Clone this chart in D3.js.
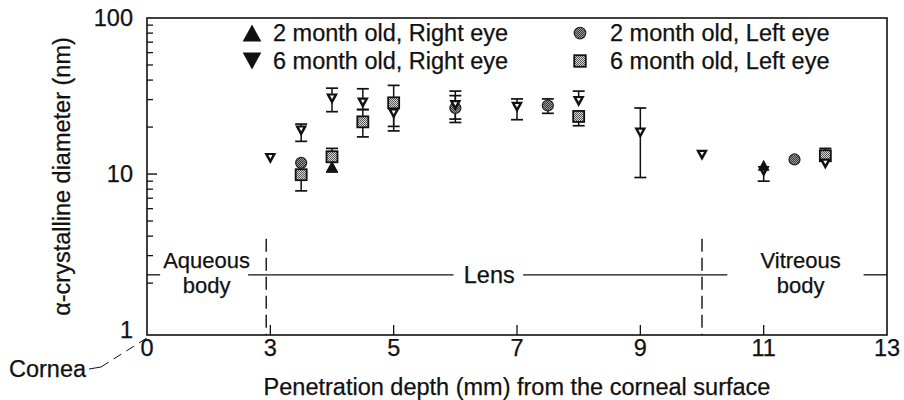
<!DOCTYPE html>
<html>
<head>
<meta charset="utf-8">
<script src="https://cdn.jsdelivr.net/npm/d3@7"></script>
<style>
  body { margin: 0; background: #fff; }
  svg text { font-family: "Liberation Sans", Arial, Helvetica, sans-serif; fill: #111; stroke: #111; stroke-width: 0.25px; }
</style>
</head>
<body>
<svg id="chart" width="904" height="400"></svg>
<script>
// ---- data (depth in mm, diameter in nm) ----
const xTickValues = [0, 3, 5, 7, 9, 11, 13];
const yTickValues = [1, 10, 100];

// 2 month old, right eye
const m2RightDepth = [4, 11];
const m2RightDiam = [11.2, 11.4];
const m2RightLo = [10.3, null];
const m2RightHi = [null, null];

// 6 month old, right eye
const m6RightDepth = [3, 3.5, 4, 4.5, 5, 6, 7, 8, 9, 10, 11, 12];
const m6RightDiam = [12.6, 18.9, 30.3, 28.5, 24.3, 27.5, 26.8, 29.2, 18.3, 13.2, 10.4, 11.6];
const m6RightLo = [null, 16.2, 25.1, 25.9, 20.2, 21.4, 22.3, null, 9.5, null, 9.0, null];
const m6RightHi = [null, 20.9, 35.5, 35.2, null, 34.0, 30.3, 34.0, 26.5, null, null, null];

// 2 month old, left eye
const m2LeftDepth = [3.5, 6, 7.5, 11.5];
const m2LeftDiam = [11.8, 26.5, 27.5, 12.4];
const m2LeftLo = [null, 22.5, 24.5, null];
const m2LeftHi = [null, 31.8, 30.3, null];

// 6 month old, left eye
const m6LeftDepth = [3.5, 4, 4.5, 5, 8, 12];
const m6LeftDiam = [9.9, 12.9, 21.6, 28.6, 23.4, 13.1];
const m6LeftLo = [7.8, null, 17.3, 18.9, 20.4, null];
const m6LeftHi = [null, 14.6, 25.9, 37.0, null, 14.6];

// region annotations (mm / nm)
const regionLineY = 2.26;
const regionLineSegments = [[0, 0.32], [2.46, 5.97], [7.1, 10.41], [12.62, 13]];
const regionBoundaries = [2.9, 10];
const regionLabels = [
  { lines: ["Aqueous", "body"], x: 1.45 },
  { lines: ["Lens"], x: 6.55 },
  { lines: ["Vitreous", "body"], x: 11.6 }
];

function buildSeries(name, symbol, xs, ys, lo, hi) {
  return { name, symbol, points: xs.map((d, i) => ({ x: d, y: ys[i], lo: lo[i], hi: hi[i] })) };
}

const series = [
  buildSeries("6 month old, Left eye", "square", m6LeftDepth, m6LeftDiam, m6LeftLo, m6LeftHi),
  buildSeries("2 month old, Left eye", "circle", m2LeftDepth, m2LeftDiam, m2LeftLo, m2LeftHi),
  buildSeries("6 month old, Right eye", "down", m6RightDepth, m6RightDiam, m6RightLo, m6RightHi),
  buildSeries("2 month old, Right eye", "up", m2RightDepth, m2RightDiam, m2RightLo, m2RightHi)
];

// ---- layout ----
const plotLeft = 147, plotRight = 887, plotTop = 18, plotBottom = 335;
const fontSize = 23.5;
const regionFont = 22;

const svg = d3.select("#chart");

// broken axis: 0..3 is squeezed into one label step
const x = d3.scaleLinear()
  .domain([0, 3, 13])
  .range([plotLeft, plotLeft + (plotRight - plotLeft) / 6, plotRight]);
const y = d3.scaleLog().domain([0.93, 100]).range([plotBottom, plotTop]);

// patterns for the textured markers
const defs = svg.append("defs");
const sq = defs.append("pattern").attr("id", "checkLight")
  .attr("width", 2).attr("height", 2).attr("patternUnits", "userSpaceOnUse");
sq.append("rect").attr("width", 2).attr("height", 2).attr("fill", "#d8d8d8");
sq.append("rect").attr("width", 1).attr("height", 1).attr("fill", "#555");
sq.append("rect").attr("x", 1).attr("y", 1).attr("width", 1).attr("height", 1).attr("fill", "#555");

const ci = defs.append("pattern").attr("id", "checkDark")
  .attr("width", 2).attr("height", 2).attr("patternUnits", "userSpaceOnUse");
ci.append("rect").attr("width", 2).attr("height", 2).attr("fill", "#3a3a3a");
ci.append("rect").attr("width", 1).attr("height", 1).attr("fill", "#999");
ci.append("rect").attr("x", 1).attr("y", 1).attr("width", 1).attr("height", 1).attr("fill", "#999");

// ---- frame ----
svg.append("rect")
  .attr("x", plotLeft).attr("y", plotTop)
  .attr("width", plotRight - plotLeft).attr("height", plotBottom - plotTop)
  .attr("fill", "none").attr("stroke", "#111").attr("stroke-width", 1.6);

// y ticks (inward), majors longer
const yMinor = [];
[1, 10].forEach(dec => d3.range(2, 10).forEach(k => yMinor.push(dec * k)));
svg.append("g").selectAll("line")
  .data(yMinor)
  .join("line")
  .attr("x1", plotLeft).attr("x2", plotLeft + 6)
  .attr("y1", d => y(d)).attr("y2", d => y(d))
  .attr("stroke", "#111").attr("stroke-width", 1.3);
svg.append("g").selectAll("line")
  .data([10])
  .join("line")
  .attr("x1", plotLeft).attr("x2", plotLeft + 10)
  .attr("y1", d => y(d)).attr("y2", d => y(d))
  .attr("stroke", "#111").attr("stroke-width", 1.4);

svg.append("g").selectAll("text")
  .data(yTickValues)
  .join("text")
  .attr("x", plotLeft - 14)
  .attr("y", d => y(d) + 8)
  .attr("text-anchor", "end")
  .style("font-size", fontSize + "px")
  .text(d => d);

// x ticks (inward from bottom)
svg.append("g").selectAll("line")
  .data(xTickValues.slice(1, -1))
  .join("line")
  .attr("x1", d => x(d)).attr("x2", d => x(d))
  .attr("y1", plotBottom).attr("y2", plotBottom - 10)
  .attr("stroke", "#111").attr("stroke-width", 1.3);

svg.append("g").selectAll("text")
  .data(xTickValues)
  .join("text")
  .attr("x", d => x(d))
  .attr("y", plotBottom + 21)
  .attr("text-anchor", "middle")
  .style("font-size", fontSize + "px")
  .text(d => d);

// axis titles
svg.append("text")
  .attr("transform", `translate(70, ${(plotTop + plotBottom) / 2}) rotate(-90)`)
  .attr("text-anchor", "middle")
  .style("font-size", fontSize + "px")
  .text("\u03b1-crystalline diameter (nm)");

svg.append("text")
  .attr("x", (x(3) + x(11)) / 2)
  .attr("y", 395)
  .attr("text-anchor", "middle")
  .style("font-size", fontSize + "px")
  .text("Penetration depth (mm) from the corneal surface");

// cornea pointer
const cornea = svg.append("text")
  .attr("x", 9).attr("y", 377)
  .style("font-size", fontSize + "px")
  .text("Cornea");
const cb = cornea.node().getBBox();
svg.append("path")
  .attr("d", `M${cb.x + cb.width + 2},369 L${cb.x + cb.width + 14},367`)
  .attr("fill", "none").attr("stroke", "#111").attr("stroke-width", 1);
svg.append("line")
  .attr("x1", cb.x + cb.width + 14).attr("y1", 367)
  .attr("x2", x(0) + 3).attr("y2", plotBottom + 1)
  .attr("stroke", "#111").attr("stroke-width", 1)
  .attr("stroke-dasharray", "9,6");

// ---- region annotations ----
svg.append("g").selectAll("line")
  .data(regionLineSegments)
  .join("line")
  .attr("x1", d => x(d[0])).attr("x2", d => x(d[1]))
  .attr("y1", y(regionLineY)).attr("y2", y(regionLineY))
  .attr("stroke", "#111").attr("stroke-width", 1.3);

svg.append("g").selectAll("line")
  .data(regionBoundaries)
  .join("line")
  .attr("x1", d => x(d)).attr("x2", d => x(d))
  .attr("y1", y(regionLineY) - 36).attr("y2", plotBottom)
  .attr("stroke", "#111").attr("stroke-width", 1.4)
  .attr("stroke-dasharray", "13,6");

regionLabels.forEach(r => {
  if (r.lines.length === 1) {
    svg.append("text")
      .attr("text-anchor", "middle")
      .style("font-size", fontSize + "px")
      .attr("x", x(r.x)).attr("y", y(regionLineY) + 8)
      .text(r.lines[0]);
  } else {
    r.lines.forEach((ln, i) => {
      svg.append("text")
        .attr("text-anchor", "middle")
        .style("font-size", regionFont + "px")
        .attr("x", x(r.x))
        .attr("y", y(regionLineY) - 7 + i * 25)
        .text(ln);
    });
  }
});

// ---- markers ----
function triPath(cx, cy, w, h, down) {
  const s = down ? 1 : -1;
  return `M${cx - w / 2},${cy - s * h / 2} L${cx + w / 2},${cy - s * h / 2} L${cx},${cy + s * h / 2} Z`;
}

function drawMarker(g, symbol, cx, cy, big) {
  const k = big ? 1.55 : 1;
  if (symbol === "up") {
    g.append("path").attr("d", triPath(cx, cy, 12 * k, 11 * k, false)).attr("fill", "#111");
  } else if (symbol === "down") {
    if (big) {
      g.append("path").attr("d", triPath(cx, cy, 12 * k, 11 * k, true)).attr("fill", "#111");
    } else {
      g.append("path").attr("d", triPath(cx, cy, 12, 11, true)).attr("fill", "#111");
      g.append("path").attr("d", triPath(cx, cy - 1.5, 4, 3.6, true)).attr("fill", "#fff");
    }
  } else if (symbol === "circle") {
    g.append("circle").attr("cx", cx).attr("cy", cy).attr("r", 5.5 * (big ? 1.05 : 1))
      .attr("fill", "url(#checkDark)").attr("stroke", "#222").attr("stroke-width", 1.2);
  } else if (symbol === "square") {
    const s = 11 * (big ? 1.05 : 1);
    g.append("rect").attr("x", cx - s / 2).attr("y", cy - s / 2).attr("width", s).attr("height", s)
      .attr("fill", "url(#checkLight)").attr("stroke", "#111").attr("stroke-width", 1.8);
  }
}

const capW = 12;
const plot = svg.append("g");

// error bars first
series.forEach(s => {
  s.points.forEach(p => {
    if (p.hi == null && p.lo == null) return;
    const yTop = y(p.hi != null ? p.hi : p.y);
    const yBot = y(p.lo != null ? p.lo : p.y);
    plot.append("line")
      .attr("x1", x(p.x)).attr("x2", x(p.x))
      .attr("y1", yTop).attr("y2", yBot)
      .attr("stroke", "#111").attr("stroke-width", 1.5);
    [p.hi, p.lo].forEach(v => {
      if (v == null) return;
      plot.append("line")
        .attr("x1", x(p.x) - capW / 2).attr("x2", x(p.x) + capW / 2)
        .attr("y1", y(v)).attr("y2", y(v))
        .attr("stroke", "#111").attr("stroke-width", 1.7);
    });
  });
});

series.forEach(s => {
  s.points.forEach(p => drawMarker(plot, s.symbol, x(p.x), y(p.y), false));
});

// ---- legend ----
const legendItems = [
  { name: "2 month old, Right eye", symbol: "up", col: 0, row: 0 },
  { name: "6 month old, Right eye", symbol: "down", col: 0, row: 1 },
  { name: "2 month old, Left eye", symbol: "circle", col: 1, row: 0 },
  { name: "6 month old, Left eye", symbol: "square", col: 1, row: 1 }
];
const legendColX = [252, 580];
const legendTextX = [273, 610];
const legendRowY = [33, 61];
const legend = svg.append("g");
legendItems.forEach(d => {
  drawMarker(legend, d.symbol, legendColX[d.col], legendRowY[d.row], true);
  legend.append("text")
    .attr("x", legendTextX[d.col])
    .attr("y", legendRowY[d.row] + 8)
    .style("font-size", fontSize + "px")
    .text(d.name);
});
</script>
</body>
</html>
